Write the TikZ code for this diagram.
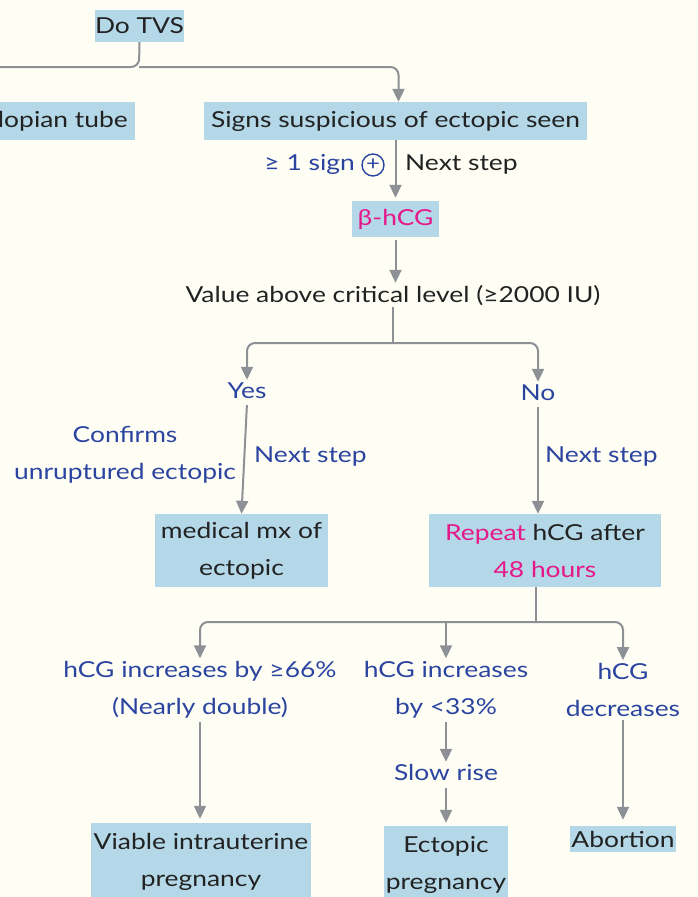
\documentclass[tikz,border=0pt]{standalone}
\usepackage{fontspec}
\setmainfont[FakeStretch=1.2]{Lato}
\usetikzlibrary{arrows.meta}
\definecolor{bg}{HTML}{FEFEF5}
\definecolor{boxc}{HTML}{B4D8E7}
\definecolor{arr}{HTML}{8D9095}
\definecolor{blu}{HTML}{2B44A0}
\definecolor{pnk}{HTML}{E5188A}
\definecolor{ink}{HTML}{222222}
\begin{document}
\begin{tikzpicture}[x=1pt,y=-1pt,
  every node/.style={font=\fontsize{22}{37}\selectfont, align=center, inner sep=0pt},
  bx/.style={fill=boxc, text=ink},
  lbl/.style={text=blu},
  plain/.style={text=ink},
  sl/.style={text height=15pt, text depth=5pt},
  cplus/.style={circle, draw=blu, line width=1.4pt, minimum size=22pt, text=blu, font=\fontsize{20}{20}\selectfont},
  con/.style={draw=arr, line width=2pt, -{Triangle[width=12pt,length=13pt]}, rounded corners=8pt},
  lin/.style={draw=arr, line width=2pt, rounded corners=8pt}]
\fill[bg] (0,0) rectangle (698,897);
\useasboundingbox (0,0) rectangle (698,897);
\clip (0,0) rectangle (698,897);

% boxes
\node[bx, minimum width=83pt, minimum height=32pt] (tvs) at (139.5,26) {Do TVS};
\node[bx, minimum height=38pt, inner xsep=7pt, anchor=east] (fal) at (135,121) {Fallopian tube};
\node[bx, minimum width=383pt, minimum height=38pt] (signs) at (395.5,121) {Signs suspicious of ectopic seen};
\node[bx, minimum width=87pt, minimum height=36pt, text=pnk] (bhcg) at (395.5,219) {β-hCG};
\node[plain, sl] (val) at (393,297) {Value above critical level (≥2000 IU)};
\node[lbl, sl] (yes) at (247,393) {Yes};
\node[lbl, sl] (no) at (538,395) {No};
\node[bx, minimum width=173pt, minimum height=73pt] (med) at (241.5,550.5) {medical mx of\\ectopic};
\node[bx, minimum width=232pt, minimum height=73pt] (rep) at (545,550.5) {\textcolor{pnk}{Repeat} hCG after\\\textcolor{pnk}{48 hours}};
\node[lbl] (ia) at (200,690) {hCG increases by ≥66\%\\(Nearly double)};
\node[lbl] (ib) at (446,690) {hCG increases\\by <33\%};
\node[lbl, sl] (slow) at (446,775) {Slow rise};
\node[lbl] (dc) at (623,690) {hCG\\decreases};
\node[bx, minimum width=220pt, minimum height=78pt] (via) at (201,862) {Viable intrauterine\\pregnancy};
\node[bx, minimum width=124pt, minimum height=78pt] (ect) at (446,865) {Ectopic\\pregnancy};
\node[bx, inner xsep=1pt, minimum height=26pt] (abo) at (623,839) {Abortion};

% labels on connectors
\node[cplus] (plus) at (373,165) {+};
\node[lbl, sl, anchor=east] (sg) at (355,165) {≥ 1 sign};
\node[plain, sl, anchor=west] (ns1) at (405,165) {Next step};
\node[lbl] (conf) at (125,455) {Confirms\\unruptured ectopic};
\node[lbl, sl, anchor=west] (ns2) at (254,457) {Next step};
\node[lbl, sl, anchor=west] (ns3) at (545,457) {Next step};

% connectors
\coordinate (j1) at (139,67);
\coordinate (tl) at (-10,67);
\draw[lin] (tvs.south) -- (j1) -- (tl);
\draw[con] (j1) -| ([xshift=3pt]signs.north);
\draw[con, shorten >=3pt] (signs.south) -- (bhcg.north);
\draw[con, shorten <=3pt, shorten >=4pt] (bhcg.south) -- (val.north -| bhcg.south);
\coordinate (j2) at (393,343);
\draw[lin] (val.south -| j2) -- (j2);
\draw[con, shorten >=3pt] (j2) -| (yes.north);
\draw[con, shorten >=3pt] (j2) -| (no.north);
\draw[con, shorten <=2pt] (yes.south) -- (med.north);
\draw[con, shorten <=2pt] (no.south) -- (rep.north -| no.south);
\coordinate (j3) at (536,622);
\draw[lin] (rep.south -| j3) -- (j3);
\draw[con, shorten >=3pt] (j3) -| (ia.north);
\draw[con, shorten >=3pt] (j3) -| (dc.north);
\draw[con, shorten >=3pt] (ib.north |- j3) -- (ib.north);
\draw[con, shorten <=3pt, shorten >=4pt] (ia.south) -- (via.north -| ia.south);
\draw[con, shorten <=3pt, shorten >=3pt] (ib.south) -- (slow.north);
\draw[con, shorten <=3pt, shorten >=3pt] (slow.south) -- (ect.north);
\draw[con, shorten <=3pt, shorten >=6pt] (dc.south) -- (abo.north);
\end{tikzpicture}
\end{document}
